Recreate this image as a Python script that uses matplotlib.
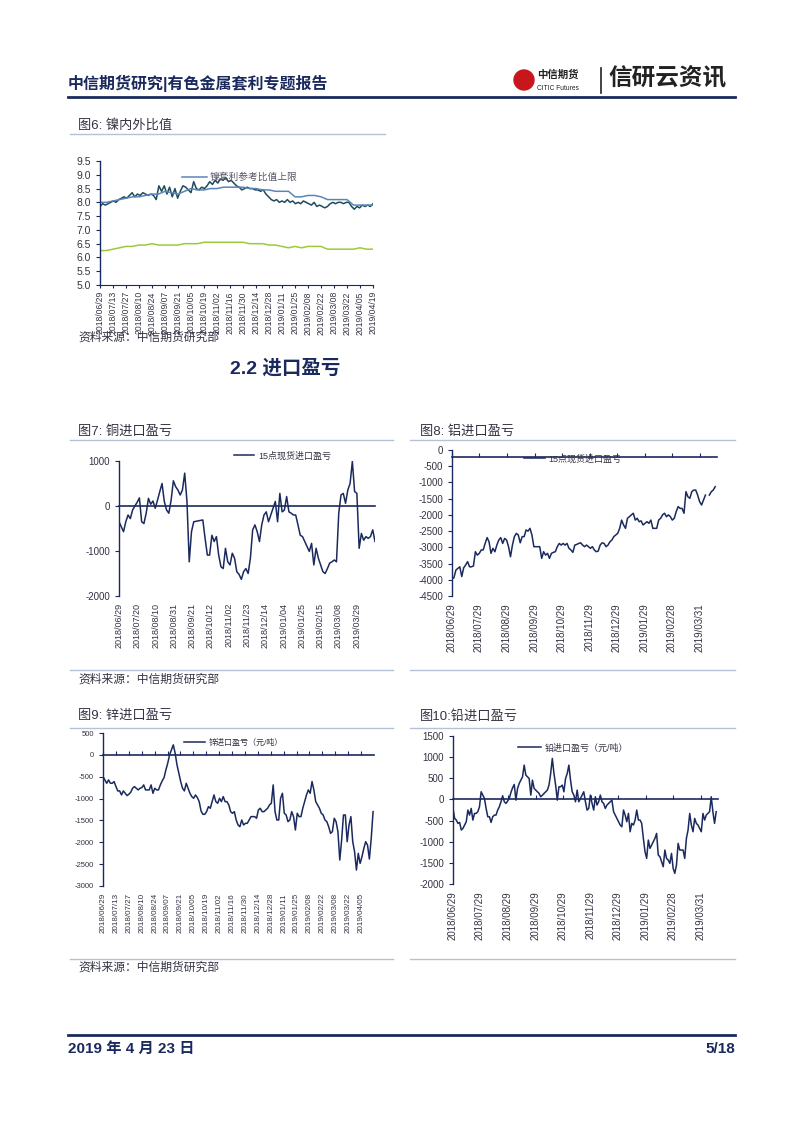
import numpy as np
import pandas as pd
import matplotlib
matplotlib.use("Agg")
import matplotlib.pyplot as plt
from matplotlib.lines import Line2D
from matplotlib.patches import Ellipse

plt.rcParams['font.family'] = ['Liberation Sans', 'Noto Sans CJK SC', 'DejaVu Sans']
plt.rcParams['axes.unicode_minus'] = False

W, H = 802, 1133
NAVY = '#1b2a5e'
TXT = '#333344'
RULE = '#b4c2d6'
nan = np.nan

# ---- fig 6: nickel ratio ----
ni_start, ni_end = '2018-06-29', '2019-04-19'
ni_ratio = [7.85, 7.95, 7.9, 7.95, 8.0, 8.05, 8.0, 8.1, 8.15, 8.2,
            8.15, 8.25, 8.35, 8.2, 8.3, 8.25, 8.35, 8.3, 8.25, 8.3,
            8.25, 8.1, 8.6, 8.4, 8.6, 8.3, 8.55, 8.2, 8.5, 8.15,
            8.4, 8.6, 8.55, 8.45, 8.35, 8.75, 8.5, 8.45, 8.55, 8.5,
            8.6, 8.75, 8.65, 8.8, 8.7, 8.85, 8.8, 8.9, 8.75, 8.8,
            8.7, 8.6, 8.55, 8.45, 8.5, 8.55, 8.5, 8.5, 8.45, 8.45,
            8.4, 8.45, 8.3, 8.2, 8.1, 8.05, 8.1, 8.0, 8.05, 8.0,
            8.1, 8.0, 8.05, 7.95, 8.0, 7.95, 8.05, 8.0, 7.95, 7.9,
            8.0, 7.85, 7.9, 7.85, 7.8, 7.85, 7.95, 8.0, 7.95, 8.0,
            8.0, 7.95, 8.0, 8.0, 7.85, 7.75, 7.85, 7.8, 7.9, 7.85, 7.9, 7.85, 7.95]
ni_upper = [8.0, 8.0, 8.05, 8.1, 8.15, 8.2, 8.2, 8.25, 8.3, 8.3, 8.4, 8.35, 8.3, 8.4,
            8.5, 8.45, 8.45, 8.5, 8.5, 8.55, 8.55, 8.55, 8.55, 8.5, 8.5, 8.45, 8.45, 8.4,
            8.4, 8.4, 8.2, 8.2, 8.25, 8.25, 8.2, 8.1, 8.1, 8.1, 8.1, 7.9, 7.9, 7.9, 7.9]
ni_lower = [6.25, 6.25, 6.3, 6.35, 6.4, 6.4, 6.45, 6.45, 6.5, 6.45, 6.45, 6.45, 6.45, 6.5,
            6.5, 6.5, 6.55, 6.55, 6.55, 6.55, 6.55, 6.55, 6.55, 6.5, 6.5, 6.5, 6.45, 6.45,
            6.4, 6.35, 6.4, 6.35, 6.4, 6.4, 6.4, 6.3, 6.3, 6.3, 6.3, 6.3, 6.35, 6.3, 6.3]
ni_ticks = ['2018/06/29', '2018/07/13', '2018/07/27', '2018/08/10', '2018/08/24', '2018/09/07',
            '2018/09/21', '2018/10/05', '2018/10/19', '2018/11/02', '2018/11/16', '2018/11/30',
            '2018/12/14', '2018/12/28', '2019/01/11', '2019/01/25', '2019/02/08', '2019/02/22',
            '2019/03/08', '2019/03/22', '2019/04/05', '2019/04/19']

# ---- fig 7: copper ----
cu_start, cu_end = '2018-06-29', '2019-04-19'
cu_vals = [-350, -460, -570, -350, -200, -280, -90, 0, 80, 180, -350, -390, -160, 170, 40, 110,
           -50, 130, 320, 500, 100, -90, -160, 130, 560, 430, 355, 245, 355, 730, 100, -1240,
           -570, -350, -340, -330, -320, -310, -720, -1090, -1090, -650, -790, -680, -1090,
           -1350, -1390, -940, -1240, -1310, -1050, -1160, -1460, -1520, -1630, -1460, -1390,
           -1500, -1160, -530, -420, -570, -790, -420, -200, -130, -350, -200, -50, 100, -350,
           280, -130, -90, 210, -130, -160, -200, -200, -420, -650, -680, -790, -900, -1010,
           -830, -1310, -940, -1160, -1310, -1460, -1500, -1390, -1270, -1240, -1200, -1240,
           -160, 245, 280, 60, 355, 500, 990, 320, 280, -940, -610, -760, -680, -720, -680,
           -530, -790]
cu_ticks = ['2018/06/29', '2018/07/20', '2018/08/10', '2018/08/31', '2018/09/21', '2018/10/12',
            '2018/11/02', '2018/11/23', '2018/12/14', '2019/01/04', '2019/01/25', '2019/02/15',
            '2019/03/08', '2019/03/29']

# ---- fig 8: aluminium ----
al_start, al_end = '2018-06-29', '2019-04-17'
al_vals = [-3980, -3935, -3700, -3650, -3600, -3900, -3630, -3545, -3440, -3600, -3600, -3575,
           -3135, -3240, -3185, -3080, -3080, -2880, -2700, -2830, -3185, -3030, -3135, -2930,
           -2775, -2700, -2880, -2725, -2775, -2980, -3290, -2930, -2670, -2570, -2620, -2860,
           -2670, -2670, -2465, -2500, -2415, -2620, -2980, -2980, -2980, -2980, -3340, -3135,
           -3240, -3185, -3340, -3185, -3155, -3135, -2980, -2880, -2930, -2880, -2930, -2880,
           -3030, -3080, -3155, -2930, -2910, -2880, -2860, -2930, -2980, -2930, -2980, -3030,
           -2980, -3080, -3135, -3115, -2930, -2860, -2880, -2980, -2930, -2830, -2775, -2670,
           -2620, -2570, -2415, -2160, -2310, -2415, -2105, -2055, -2000, -1950, -2160, -2105,
           -2210, -2185, -2310, -2260, -2210, -2260, -2160, -2415, -2415, -2415, -2160, -2105,
           -2000, -1950, -2055, -2000, -2055, -2160, -2105, -1900, -1745, -1800, -1800, -1950,
           -1285, -1440, -1490, -1285, -1235, -1235, -1390, -1590, -1695, -1540, -1390, nan,
           -1390, -1285, -1235, -1130]
month_ticks = ['2018/06/29', '2018/07/29', '2018/08/29', '2018/09/29', '2018/10/29', '2018/11/29',
               '2018/12/29', '2019/01/29', '2019/02/28', '2019/03/31']

# ---- fig 9: zinc ----
zn_start, zn_end = '2018-06-29', '2019-04-18'
zn_vals = [-497, -573, -650, -573, -650, -650, -611, -726, -825, -825, -917, -825, -879, -932,
           -901, -856, -764, -726, -764, -802, -764, -749, -688, -802, -802, -802, -688, -879,
           -764, -802, -802, -688, -596, -520, -344, -191, 0, 115, 229, 38, -229, -420, -611,
           -764, -825, -650, -764, -879, -955, -993, -917, -978, -1070, -1283, -1360, -1360,
           -1299, -1184, -1222, -1070, -917, -1070, -1108, -993, -1070, -955, -1070, -1070,
           -1146, -1299, -1337, -1299, -1490, -1604, -1643, -1490, -1604, -1566, -1566, -1490,
           -1413, -1413, -1413, -1451, -1261, -1222, -1299, -1299, -1261, -1222, -1146, -1108,
           -688, -1299, -1490, -1490, -993, -879, -1337, -1375, -1528, -1490, -1299, -1413,
           -1719, -1337, -1413, -1413, -1222, -1070, -917, -802, -879, -611, -802, -1070, -1146,
           -1222, -1337, -1375, -1490, -1528, -1643, -1795, -1757, -1451, -1528, -1757, -2406,
           -1948, -1375, -1375, -1986, -1604, -1413, -1986, -2215, -2635, -2253, -2483, -2330,
           -2139, -1986, -2063, -2383, -1910, -1299]
zn_ticks = ['2018/06/29', '2018/07/13', '2018/07/27', '2018/08/10', '2018/08/24', '2018/09/07',
            '2018/09/21', '2018/10/05', '2018/10/19', '2018/11/02', '2018/11/16', '2018/11/30',
            '2018/12/14', '2018/12/28', '2019/01/11', '2019/01/25', '2019/02/08', '2019/02/22',
            '2019/03/08', '2019/03/22', '2019/04/05']

# ---- fig 10: lead ----
pb_start, pb_end = '2018-06-29', '2019-04-17'
pb_vals = [-213, -449, -488, -567, -543, -724, -685, -606, -528, -252, -370, -213, -488, -331,
           -331, -291, -173, 181, 102, 24, -213, -409, -409, -543, -409, -370, -370, -252, -173,
           -55, 87, -55, -94, -39, 24, 165, 276, 354, -16, 260, 378, 457, 535, 811, 575, 535,
           496, 102, 457, 260, 220, 181, 142, 63, 100, 142, 180, 220, 339, 614, 969, 614, 339,
           -16, 299, 299, 339, 181, 496, 614, 811, 457, 181, 102, -55, 220, -55, 24, 102, 181,
           -55, -252, -213, 102, -94, -252, 63, -134, -55, 102, -55, -94, -213, -134, -94, -55,
           -16, -291, -370, -449, -528, -606, -646, -252, -370, -528, -331, -764, -567, -606,
           -488, -252, -488, -488, -567, -921, -1236, -1394, -961, -1157, -1079, -1000, -921,
           -803, -1315, -1354, -1472, -1591, -1197, -1394, -1433, -1512, -1276, -1630, -1748,
           -1551, -1039, -1197, -1197, -1197, -1394, -921, -724, -331, -606, -764, -449, -567,
           -606, -685, -764, -331, -488, -370, -331, -291, 63, -291, -567, -291]

fig = plt.figure(figsize=(W / 100, H / 100), dpi=100)
fig.patch.set_facecolor('white')


def box(l, t, r, b):
    return [l / W, 1 - b / H, (r - l) / W, (b - t) / H]


def hline(y, x1, x2, color=RULE, lw=1.0):
    fig.add_artist(Line2D([x1 / W, x2 / W], [1 - y / H, 1 - y / H], transform=fig.transFigure,
                          color=color, lw=lw))


def ftext(x, y, s, **kw):
    kw.setdefault('va', 'center')
    fig.text(x / W, 1 - y / H, s, **kw)


def dates_for(start, end, vals):
    return pd.date_range(start, end, periods=len(vals))


def style_dates(ax, ticks, size):
    tk = pd.to_datetime(ticks, format='%Y/%m/%d')
    ax.set_xticks(tk)
    ax.set_xticklabels(ticks)
    ax.tick_params(axis='x', labelrotation=90, labelsize=size, labelcolor=TXT)


def base_axes(rect, ylim, yticks, ysize):
    ax = fig.add_axes(rect)
    ax.set_ylim(*ylim)
    ax.set_yticks(yticks)
    ax.tick_params(axis='y', labelsize=ysize, labelcolor=TXT, color=NAVY, length=3, width=0.8)
    for s in ['right', 'top', 'bottom']:
        ax.spines[s].set_visible(False)
    ax.spines['left'].set_color(NAVY)
    ax.spines['left'].set_linewidth(1.0)
    return ax


def xline(ax, yval, ticks_up):
    ax.spines['top'].set_visible(True)
    ax.spines['top'].set_position(('data', yval))
    ax.spines['top'].set_color(NAVY)
    ax.spines['top'].set_linewidth(1.2)
    ax.tick_params(axis='x', bottom=False, top=ticks_up, labelbottom=True, labeltop=False,
                   direction='out', length=3, color=NAVY, width=0.8, pad=2, labelrotation=90)


# header
ftext(68, 83, '中信期货研究|有色金属套利专题报告', fontsize=11.5, fontweight='bold', color=NAVY)
hline(97, 68, 735, color=NAVY, lw=2)
fig.add_artist(Ellipse((524 / W, 1 - 80 / H), 20 / W, 20 / H, transform=fig.transFigure,
                       color='#c8161d'))
ftext(537, 75, '中信期货', fontsize=7.5, fontweight='bold', color='#222222')
ftext(537, 88, 'CITIC Futures', fontsize=4.8, color='#222222')
fig.add_artist(Line2D([601 / W, 601 / W], [1 - 68 / H, 1 - 93 / H], transform=fig.transFigure,
                      color='#222222', lw=1.2))
ftext(608, 79, '信研云资讯', fontsize=17, fontweight='bold', color='#222222')

# ---- fig 6 ----
ftext(78, 125, '图6: 镍内外比值', fontsize=9.5, color=TXT)
hline(134, 70, 385)
ax6 = base_axes(box(100, 161, 373, 285), (5.0, 9.5), np.arange(5.0, 9.51, 0.5), 7.5)
ax6.yaxis.set_major_formatter(matplotlib.ticker.FormatStrFormatter('%.1f'))
ax6.spines['bottom'].set_visible(True)
ax6.spines['bottom'].set_color(NAVY)
ax6.plot(dates_for(ni_start, ni_end, ni_ratio), ni_ratio, color='#1e4b5a', lw=1.1)
ax6.plot(dates_for(ni_start, ni_end, ni_upper), ni_upper, color='#5b85b8', lw=1.1,
         label='镍套利参考比值上限')
ax6.plot(dates_for(ni_start, ni_end, ni_lower), ni_lower, color='#9bcb3c', lw=1.1)
ax6.set_xlim(pd.Timestamp(ni_start), pd.Timestamp(ni_end))
style_dates(ax6, ni_ticks, 6.2)
ax6.tick_params(axis='x', length=2.5, color=NAVY, pad=2)
ax6.legend(loc='center left', bbox_to_anchor=(0.3, 0.87), frameon=False, fontsize=7,
           handlelength=2.6, handletextpad=0.3, borderpad=0, borderaxespad=0,
           labelcolor='#555566')
ftext(78, 338, '资料来源：中信期货研究部', fontsize=8.5, color=TXT)

ftext(230, 368, '2.2 进口盈亏', fontsize=14, fontweight='bold', color=NAVY)

# ---- fig 7 ----
ftext(78, 432, '图7: 铜进口盈亏', fontsize=9.5, color=TXT)
hline(440, 70, 393)
ax7 = base_axes(box(119, 461, 375, 596), (-2000, 1000), [-2000, -1000, 0, 1000], 7)
ax7.plot(dates_for(cu_start, cu_end, cu_vals), cu_vals, color=NAVY, lw=1.1,
         label='15点现货进口盈亏')
ax7.set_xlim(pd.Timestamp(cu_start), pd.Timestamp(cu_end))
style_dates(ax7, cu_ticks, 6.5)
xline(ax7, 0, False)
ax7.legend(loc='center left', bbox_to_anchor=(0.45, 1.04), frameon=False, fontsize=6.5,
           handlelength=2.2, handletextpad=0.5, borderpad=0, borderaxespad=0,
           labelcolor=TXT)
hline(670, 70, 393)
ftext(78, 680, '资料来源：中信期货研究部', fontsize=8.5, color=TXT)

# ---- fig 8 ----
ftext(420, 432, '图8: 铝进口盈亏', fontsize=9.5, color=TXT)
hline(440, 410, 735)
ax8 = base_axes(box(452, 450, 717, 596), (-4500, 0), np.arange(-4500, 1, 500), 7)
ax8.plot(dates_for(al_start, al_end, al_vals), al_vals, color=NAVY, lw=1.1,
         label='15点现货进口盈亏')
ax8.set_xlim(pd.Timestamp(al_start), pd.Timestamp('2019-04-19'))
style_dates(ax8, month_ticks, 7)
xline(ax8, -220, True)
ax8.legend(loc='center left', bbox_to_anchor=(0.27, 0.94), frameon=False, fontsize=6.5,
           handlelength=2.4, handletextpad=0.3, borderpad=0, borderaxespad=0,
           labelcolor=TXT)
hline(670, 410, 735)

# ---- fig 9 ----
ftext(78, 716, '图9: 锌进口盈亏', fontsize=9.5, color=TXT)
hline(728, 70, 393)
ax9 = base_axes(box(103, 733, 374, 886), (-3000, 500), np.arange(-3000, 501, 500), 5.5)
ax9.plot(dates_for(zn_start, zn_end, zn_vals), zn_vals, color=NAVY, lw=1.1,
         label='锌进口盈亏（元/吨）')
ax9.set_xlim(pd.Timestamp(zn_start), pd.Timestamp('2019-04-19'))
style_dates(ax9, zn_ticks, 5.8)
xline(ax9, 0, True)
ax9.legend(loc='center left', bbox_to_anchor=(0.3, 0.935), frameon=False, fontsize=5.8,
           handlelength=2.6, handletextpad=0.4, borderpad=0, borderaxespad=0,
           labelcolor=TXT)
hline(959, 70, 393)
ftext(78, 968, '资料来源：中信期货研究部', fontsize=8.5, color=TXT)

# ---- fig 10 ----
ftext(420, 716, '图10:铅进口盈亏', fontsize=9.5, color=TXT)
hline(728, 410, 735)
ax10 = base_axes(box(453, 736, 718, 884), (-2000, 1500), np.arange(-2000, 1501, 500), 7)
ax10.plot(dates_for(pb_start, pb_end, pb_vals), pb_vals, color=NAVY, lw=1.1,
          label='铅进口盈亏（元/吨）')
ax10.set_xlim(pd.Timestamp(pb_start), pd.Timestamp('2019-04-19'))
style_dates(ax10, month_ticks, 7)
xline(ax10, 0, True)
ax10.legend(loc='center left', bbox_to_anchor=(0.245, 0.92), frameon=False, fontsize=6.5,
            handlelength=2.6, handletextpad=0.4, borderpad=0, borderaxespad=0,
            labelcolor=TXT)
hline(959, 410, 735)

# footer
hline(1035, 68, 735, color=NAVY, lw=2)
ftext(68, 1049, '2019 年 4 月 23 日', fontsize=11, fontweight='bold', color=NAVY)
ftext(735, 1049, '5/18', fontsize=11, fontweight='bold', color=NAVY, ha='right')

fig.savefig('out.png', dpi=100, facecolor='white')
